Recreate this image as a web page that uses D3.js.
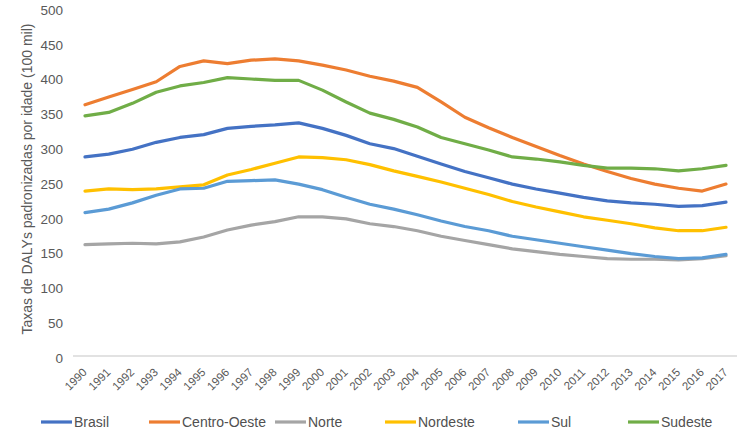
<!DOCTYPE html>
<html><head><meta charset="utf-8">
<script src="https://cdn.jsdelivr.net/npm/d3@7"></script>
<style>body{margin:0;background:#fff}svg{display:block}</style>
</head><body>
<script>
const years = ["1990","1991","1992","1993","1994","1995","1996","1997","1998","1999","2000","2001","2002","2003","2004","2005","2006","2007","2008","2009","2010","2011","2012","2013","2014","2015","2016","2017"];
const seriesNames = ["Brasil","Centro-Oeste","Norte","Nordeste","Sul","Sudeste"];
const brasil =      [286,290,297,307,314,318,327,330,332,335,327,317,305,298,287,276,265,256,247,240,234,228,223,220,218,215,216,221];
const centroOeste = [361,372,383,394,416,424,420,425,427,424,418,411,402,395,386,365,343,328,314,301,288,276,265,255,247,241,237,247];
const norte =       [160,161,162,161,164,171,181,188,193,200,200,197,190,186,180,172,166,160,154,150,146,143,140,139,139,138,140,144];
const nordeste =    [237,240,239,240,243,246,260,268,277,286,285,282,275,266,258,250,241,232,222,214,207,200,195,190,184,180,180,185];
const sul =         [206,211,220,231,240,241,251,252,253,247,239,228,218,211,203,194,186,180,172,167,162,157,152,147,143,140,141,146];
const sudeste =     [345,350,363,379,388,393,400,398,396,396,382,365,349,340,329,314,305,296,286,283,279,274,270,270,269,266,269,274];
const yTicks = [0,50,100,150,200,250,300,350,400,450,500];
const yTitle = "Taxas de DALYs padronizadas por idade (100 mil)";
const colors = ["#4472C4","#ED7D31","#A5A5A5","#FFC000","#5B9BD5","#70AD47"];
const allValues = [brasil,centroOeste,norte,nordeste,sul,sudeste];

const W=750,H=433;
const FONT="Liberation Sans, Arial, sans-serif";
const svg=d3.select("body").append("svg").attr("width",W).attr("height",H);
const x=d3.scalePoint().domain(years).range([85,726]);
const y=d3.scaleLinear().domain([0,500]).range([356,8]);

// baseline
svg.append("line").attr("x1",73).attr("x2",737).attr("y1",y(0)).attr("y2",y(0))
  .attr("stroke","#d9d9d9").attr("stroke-width",1.3);

// y axis labels
const yAxis=d3.axisLeft(y).tickValues(yTicks).tickSize(0).tickPadding(0);
const gy=svg.append("g").attr("transform","translate(63,2)").call(yAxis);
gy.select(".domain").remove();
gy.selectAll("text").attr("font-family",FONT)
  .attr("font-size",13.5).attr("fill","#595959");

// x axis labels
const xAxis=d3.axisBottom(x).tickSize(0).tickPadding(0);
const gx=svg.append("g").attr("transform",`translate(0,${y(0)})`).call(xAxis);
gx.select(".domain").remove();
gx.selectAll("text").attr("font-family",FONT)
  .attr("font-size",11.5).attr("fill","#595959")
  .attr("text-anchor","end").attr("dy",0).attr("y",0)
  .attr("transform","translate(2,17) rotate(-45)");

// y title
svg.append("text").attr("transform","translate(32,179) rotate(-90)")
  .attr("text-anchor","middle").attr("font-family",FONT)
  .attr("font-size",14).attr("fill","#595959").text(yTitle);

// lines
const line=d3.line().x((d,i)=>x(years[i])).y(d=>y(d));
allValues.forEach((vals,k)=>{
  svg.append("path").datum(vals).attr("d",line).attr("fill","none")
    .attr("stroke",colors[k]).attr("stroke-width",3.2)
    .attr("stroke-linejoin","round").attr("stroke-linecap","round");
});

// legend
const legX=[41,149,275,385,518,628];
const lg=svg.append("g");
seriesNames.forEach((n,k)=>{
  lg.append("line").attr("x1",legX[k]).attr("x2",legX[k]+31).attr("y1",422).attr("y2",422)
    .attr("stroke",colors[k]).attr("stroke-width",3.2);
  lg.append("text").attr("x",legX[k]+33).attr("y",427)
    .attr("font-family",FONT).attr("font-size",14)
    .attr("fill","#505050").text(n);
});
</script>
</body></html>
